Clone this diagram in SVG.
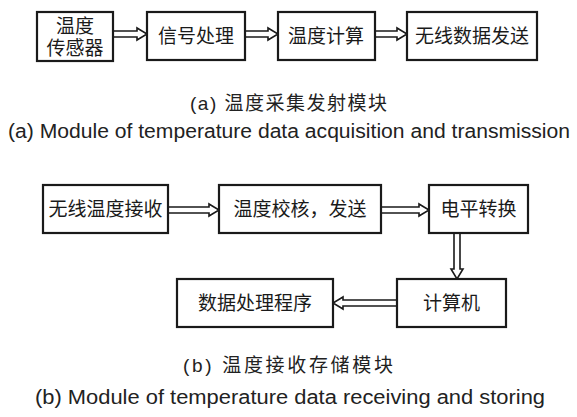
<svg xmlns="http://www.w3.org/2000/svg" width="577" height="417" viewBox="0 0 577 417">
<style>
.box{fill:#fff;stroke:#1a1a1a;stroke-width:2.2}
.t{font-family:"Liberation Serif","Noto Sans CJK SC",serif;font-size:19px;fill:#1a1a1a;text-anchor:middle;dominant-baseline:central}
.arr{fill:#fff;stroke:#1a1a1a;stroke-width:1.6;stroke-linejoin:miter}
.cap{font-family:"Liberation Sans","Noto Sans CJK SC",sans-serif;font-size:19px;fill:#222}
.en{font-family:"Liberation Sans",Arial,sans-serif;font-size:20px;fill:#222}
</style>
<rect width="577" height="417" fill="#fff"/>
<g id="connectors">
<path class="arr" d="M113,31 H137 V28 L147,34 L137,40 V37 H113 Z"/>
<path class="arr" d="M245,31 H268 V28 L278,34 L268,40 V37 H245 Z"/>
<path class="arr" d="M375,31 H397 V28 L407,34 L397,40 V37 H375 Z"/>
<path class="arr" d="M168,207 H209 V204 L219,210 L209,216 V213 H168 Z"/>
<path class="arr" d="M381,207 H419 V204 L429,210 L419,216 V213 H381 Z"/>
<path class="arr" d="M454,233 V269 H451 L457,279 L463,269 H460 V233 Z"/>
<path class="arr" d="M397,300 H343 V297 L333,303 L343,309 V306 H397 Z"/>
</g>
<g id="n1"><rect class="box" x="37" y="12" width="76" height="49"/><text class="t" x="75" y="26">温度</text><text class="t" x="75" y="48">传感器</text></g>
<g id="n2"><rect class="box" x="147" y="12" width="98" height="48"/><text class="t" x="196" y="36">信号处理</text></g>
<g id="n3"><rect class="box" x="278" y="12" width="97" height="48"/><text class="t" x="326" y="36">温度计算</text></g>
<g id="n4"><rect class="box" x="407" y="12" width="130" height="48"/><text class="t" x="472" y="36">无线数据发送</text></g>
<text class="cap" x="190" y="110" textLength="197" lengthAdjust="spacing">(a) 温度采集发射模块</text>
<text class="en" x="8" y="138" textLength="562" lengthAdjust="spacingAndGlyphs">(a) Module of temperature data acquisition and transmission</text>
<g id="m1"><rect class="box" x="43" y="185" width="125" height="48"/><text class="t" x="105.5" y="209">无线温度接收</text></g>
<g id="m2"><rect class="box" x="219" y="185" width="162" height="48"/><text class="t" x="300" y="209">温度校核，发送</text></g>
<g id="m3"><rect class="box" x="429" y="185" width="99" height="48"/><text class="t" x="478.5" y="209">电平转换</text></g>
<g id="m4"><rect class="box" x="397" y="279" width="109" height="48"/><text class="t" x="451.5" y="303">计算机</text></g>
<g id="m5"><rect class="box" x="177" y="279" width="156" height="48"/><text class="t" x="255" y="303">数据处理程序</text></g>
<text class="cap" x="183" y="372" textLength="210" lengthAdjust="spacing">(b) 温度接收存储模块</text>
<text class="en" x="35" y="404" textLength="510" lengthAdjust="spacingAndGlyphs">(b) Module of temperature data receiving and storing</text>
</svg>
